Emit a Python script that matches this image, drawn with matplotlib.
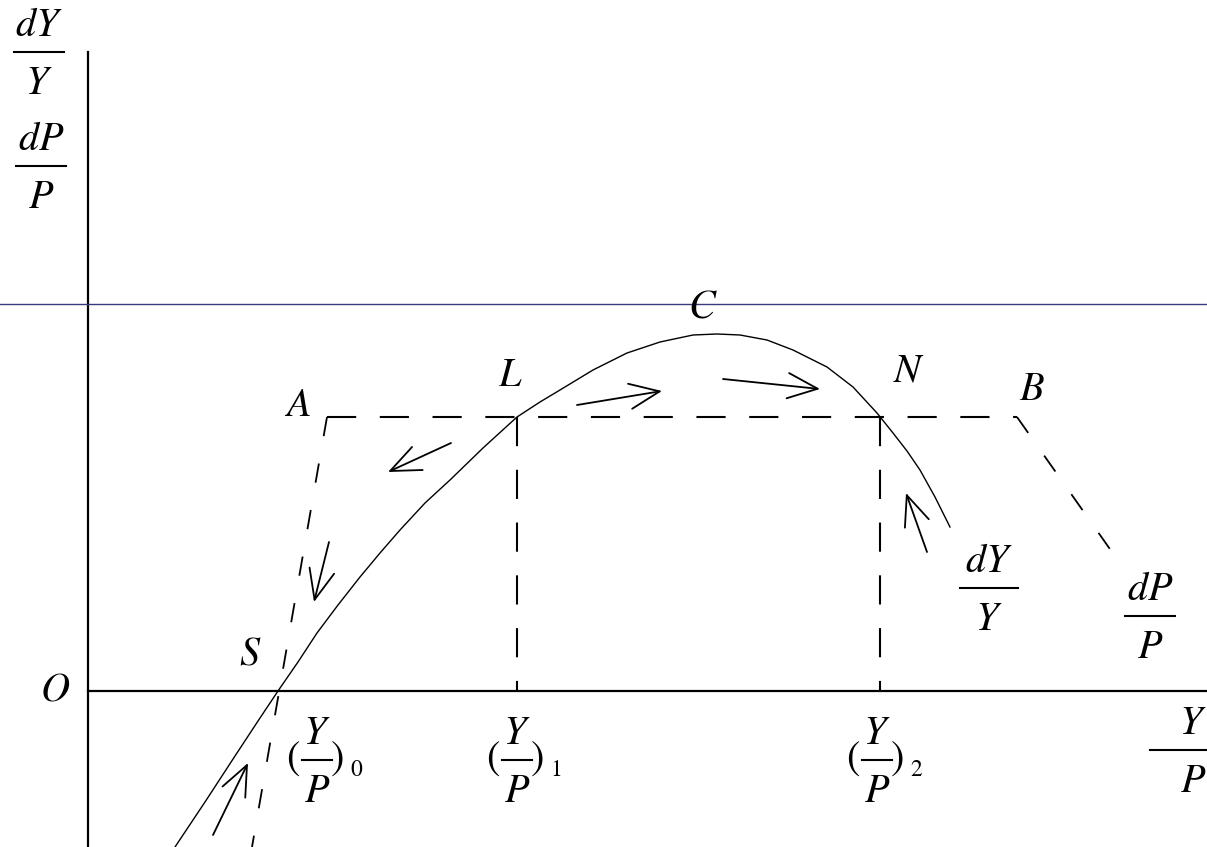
import matplotlib
matplotlib.use("Agg")
import matplotlib.pyplot as plt

plt.rcParams['mathtext.fontset'] = 'stix'
plt.rcParams['font.family'] = ['STIXGeneral', 'DejaVu Serif']
plt.rcParams['lines.scale_dashes'] = False

# ---- data (schematic coordinates, origin at O) ----
curve_x = [87, 117, 147, 172, 190, 210, 229, 250, 272, 292, 312, 337, 362, 395,
           429, 452, 472, 505, 539, 572, 605, 629, 652, 679, 705, 739, 765, 789,
           805, 819, 832, 847, 862]
curve_y = [-156, -111, -65, -27, 0, 29, 58, 86, 114, 138, 161, 188, 211, 243,
           274, 289, 301, 321, 338, 349, 356, 357, 356, 351, 341, 324, 304, 278,
           258, 240, 221, 194, 164]

x_L, x_N = 429, 792
level_AB = 274
point_A = (239, 274)
point_B = (929, 274)
A_line_end = (164, -156)
B_line_end = (1024, 139)
blue_level = 387
y_axis_top = 639
y_axis_bottom = -156
x_axis_right = 1119

arrow_tails = [(363, 248), (241, 149), (489, 286), (635, 312), (839, 139), (125, -144)]
arrow_tips = [(300, 219), (226, 89), (574, 300), (732, 302), (818, 198), (160, -72)]

point_labels = ['C', 'L', 'N', 'A', 'B', 'S', 'O']
point_label_pos = [(615, 383), (422, 315), (821, 319), (209, 285), (944, 301),
                   (162, 36), (-33, 0)]

frac_num = ['dY', 'dP', 'dY', 'dP']
frac_den = ['Y', 'P', 'Y', 'P']
frac_center = [(-49, 639), (-47, 525), (901, 103), (1062, 75)]
frac_halfw = [25, 25, 29, 25]

edge_frac_num, edge_frac_den = 'Y', 'P'
edge_frac_bar = (1062, 1119, -59)

tick_x = [229, 429, 789]
tick_sub = ['0', '1', '2']
tick_bar_y = -69

FS = 29

# ---- figure ----
fig = plt.figure(figsize=(12.07, 8.47), dpi=100)
ax = fig.add_axes([0, 0, 1, 1])
ax.set_xlim(-88, 1119)
ax.set_ylim(-156, 691)
ax.axis('off')

black = '#000000'
dash = (0, (21, 17))

# axes
ax.plot([0, 0], [y_axis_bottom, y_axis_top], color=black, lw=1.6)
ax.plot([0, x_axis_right], [0, 0], color=black, lw=1.6)
# blue horizontal line
ax.plot([-88, 1119], [blue_level, blue_level], color='#3a3a7a', lw=1.0)

# curve
ax.plot(curve_x, curve_y, color=black, lw=1.0, solid_joinstyle='round')

# dashed lines
ax.plot([point_A[0], point_B[0]], [level_AB, level_AB], color=black, lw=1.5, ls=dash)
ax.plot([x_L, x_L], [level_AB, 0], color=black, lw=1.5, ls=dash)
ax.plot([x_N, x_N], [level_AB, 0], color=black, lw=1.5, ls=dash)
ax.plot([point_A[0], A_line_end[0]], [point_A[1], A_line_end[1]], color=black, lw=1.3,
        ls=(0, (14, 20)))
ax.plot([point_B[0], B_line_end[0]], [point_B[1], B_line_end[1]], color=black, lw=1.3,
        ls=(0, (14, 20)))

# arrows
for (tx, ty), (hx, hy) in zip(arrow_tails, arrow_tips):
    ax.annotate('', xy=(hx, hy), xytext=(tx, ty),
                arrowprops=dict(arrowstyle='->,head_length=0.9,head_width=0.38',
                                color=black, lw=1.3, mutation_scale=24,
                                shrinkA=0, shrinkB=0))

# point labels
for lab, (px, py) in zip(point_labels, point_label_pos):
    ax.text(px, py, '$' + lab + '$', fontsize=FS, ha='center', va='center')


def fraction(xc, yb, num, den, hw, ha='center', xr=None):
    ax.plot([xc - hw, xc + hw], [yb, yb], color=black, lw=1.5)
    xt = xc if xr is None else xr
    ax.text(xt, yb + 16, '$' + num + '$', fontsize=FS, ha=ha, va='baseline')
    ax.text(xt, yb - 42, '$' + den + '$', fontsize=FS, ha=ha, va='baseline')


for num, den, (xc, yb), hw in zip(frac_num, frac_den, frac_center, frac_halfw):
    fraction(xc, yb, num, den, hw)

# fraction at right edge (Y/P axis label)
x0, x1, yb = edge_frac_bar
ax.plot([x0, x1], [yb, yb], color=black, lw=1.5)
ax.text(x1 - 1, yb + 16, '$' + edge_frac_num + '$', fontsize=FS, ha='right', va='baseline')
ax.text(x1 - 1, yb - 42, '$' + edge_frac_den + '$', fontsize=FS, ha='right', va='baseline')

# tick labels (Y/P)_i
for xc, sub in zip(tick_x, tick_sub):
    fraction(xc, tick_bar_y, 'Y', 'P', 15)
    ax.text(xc - 24, tick_bar_y, '(', fontsize=FS, ha='center', va='center',
            family='STIXGeneral')
    ax.text(xc + 21, tick_bar_y, ')', fontsize=FS, ha='center', va='center',
            family='STIXGeneral')
    ax.text(xc + 39, tick_bar_y - 10, sub, fontsize=17, ha='center', va='center',
            family='STIXGeneral')

fig.savefig('out.png', dpi=100)
